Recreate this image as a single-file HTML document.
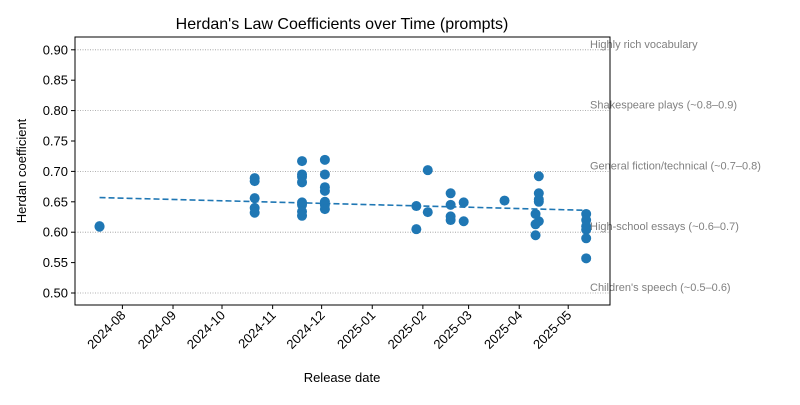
<!DOCTYPE html>
<html><head><meta charset="utf-8"><style>
body{margin:0;background:#fff;}
svg{font-family:"Liberation Sans","DejaVu Sans",sans-serif;}
</style></head><body>
<svg id="chart" width="800" height="400" xmlns="http://www.w3.org/2000/svg">
<rect width="800" height="400" fill="#fff"/>
<text x="342" y="29" text-anchor="middle" font-size="16">Herdan's Law Coefficients over Time (prompts)</text>
<g id="grid"></g><g id="refs"></g><g id="trend"></g><g id="points"></g><g id="axes"></g>
<text x="342" y="382" text-anchor="middle" font-size="13">Release date</text>
<text transform="translate(26,171) rotate(-90)" text-anchor="middle" font-size="13">Herdan coefficient</text>
</svg>
<script>
const dates=["2024-07-18","2024-07-18","2024-10-21","2024-10-21","2024-10-21","2024-10-21","2024-10-21",
"2024-11-19","2024-11-19","2024-11-19","2024-11-19","2024-11-19","2024-11-19","2024-11-19","2024-11-19",
"2024-12-03","2024-12-03","2024-12-03","2024-12-03","2024-12-03","2024-12-03","2024-12-03",
"2025-01-28","2025-01-28","2025-02-04","2025-02-04",
"2025-02-18","2025-02-18","2025-02-18","2025-02-18","2025-02-26","2025-02-26","2025-03-23",
"2025-04-13","2025-04-13","2025-04-13","2025-04-13","2025-04-13","2025-04-11","2025-04-11","2025-04-11",
"2025-05-12","2025-05-12","2025-05-12","2025-05-12","2025-05-12","2025-05-12"];
const values=[0.610,0.609,0.689,0.684,0.656,0.640,0.632,
0.717,0.695,0.691,0.682,0.649,0.645,0.634,0.627,
0.719,0.695,0.674,0.668,0.650,0.645,0.638,
0.643,0.605,0.702,0.633,
0.664,0.645,0.626,0.620,0.649,0.618,0.652,
0.692,0.664,0.654,0.650,0.618,0.630,0.613,0.595,
0.630,0.620,0.610,0.604,0.590,0.557];
const trendDates=["2024-07-18","2025-05-12"];
const trendValues=[0.657,0.636];
const yTicks=[0.50,0.55,0.60,0.65,0.70,0.75,0.80,0.85,0.90];
const xTicks=["2024-08","2024-09","2024-10","2024-11","2024-12","2025-01","2025-02","2025-03","2025-04","2025-05"];
const refValues=[0.9,0.8,0.7,0.6,0.5];
const refLabels=["Highly rich vocabulary","Shakespeare plays (~0.8–0.9)","General fiction/technical (~0.7–0.8)","High-school essays (~0.6–0.7)","Children's speech (~0.5–0.6)"];

const NS="http://www.w3.org/2000/svg";
const L=75,R=610,T=37,B=305;
const base=Date.UTC(2024,7,1);
function days(s){const p=s.split("-").map(Number);return (Date.UTC(p[0],p[1]-1,p[2]||1)-base)/864e5;}
function X(s){return 122.4+days(s)*1.633;}
function Y(v){return 293-(v-0.5)*608;}
function mk(t,a,parent){const e=document.createElementNS(NS,t);for(const k in a)e.setAttribute(k,a[k]);document.getElementById(parent).appendChild(e);return e;}

refValues.forEach((v,i)=>{
  const l=mk("line",{x1:L,x2:R,y1:Y(v),y2:Y(v),stroke:"#999","stroke-width":0.8,"stroke-dasharray":"1,1.5"},"grid");
  
  
  const t=mk("text",{x:590,y:Y(v)-2,"font-size":11,fill:"#808080"},"refs");
  t.textContent=refLabels[i];
  
  
});

const tl=mk("line",{x1:X(trendDates[0]),y1:Y(trendValues[0]),x2:X(trendDates[1]),y2:Y(trendValues[1]),stroke:"#1f77b4","stroke-width":1.6,"stroke-dasharray":"6,3"},"trend");



dates.forEach((d,i)=>{
  const c=mk("circle",{cx:X(d),cy:Y(values[i]),r:5,fill:"#1f77b4"},"points");
  
  
});

const fr=mk("rect",{x:L,y:T,width:R-L,height:B-T,fill:"none",stroke:"#000","stroke-width":1},"axes");


yTicks.forEach(v=>{
  mk("line",{x1:L-4,x2:L,y1:Y(v),y2:Y(v),stroke:"#000"},"axes");
  const t=mk("text",{x:L-7,y:Y(v)+4.5,"text-anchor":"end","font-size":13},"axes");
  t.textContent=v.toFixed(2);
  
  
});
xTicks.forEach(s=>{
  const x=X(s);
  mk("line",{x1:x,x2:x,y1:B,y2:B+4,stroke:"#000"},"axes");
  const t=mk("text",{x:x+4,y:B+11,"text-anchor":"end","font-size":13,transform:`rotate(-45 ${x+4} ${B+11})`},"axes");
  t.textContent=s;
  
  
});
</script>
</body></html>
